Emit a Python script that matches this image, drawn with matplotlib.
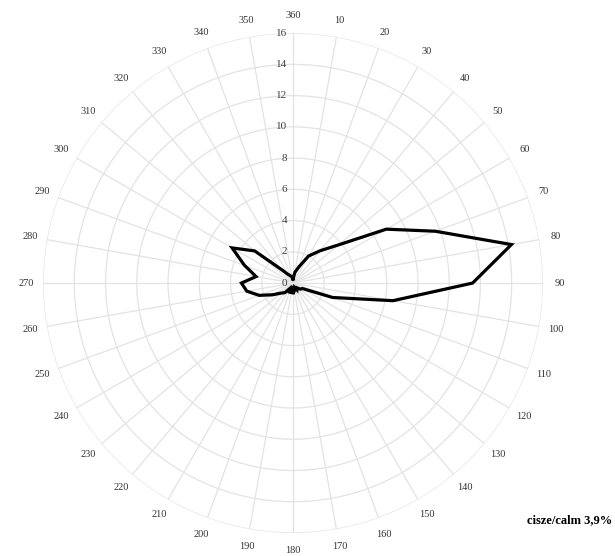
import numpy as np
import matplotlib
matplotlib.use("Agg")
import matplotlib.pyplot as plt
from matplotlib.transforms import offset_copy

# wind directions (360 at top, clockwise) and frequency in %
directions = [360, 10, 20, 30, 40, 50, 60, 70, 80, 90, 100, 110,
              120, 130, 140, 150, 160, 170, 180, 190, 200, 210, 220, 230,
              240, 250, 260, 270, 280, 290, 300, 310, 320, 330, 340, 350]
freq = [0.25, 0.7, 1.1, 2.0, 2.7, 3.8, 6.9, 9.7, 14.2, 11.5, 6.5, 2.7,
        0.7, 0.6, 0.4, 0.5, 0.3, 0.5, 0.7, 0.4, 0.7, 0.4, 0.8, 1.0,
        1.5, 2.3, 3.0, 3.3, 2.4, 3.3, 4.5, 3.2, 1.1, 0.65, 0.5, 0.4]
rings = [0, 2, 4, 6, 8, 10, 12, 14, 16]
calm_text = "cisze/calm 3,9%"

plt.rcParams['font.family'] = ['Liberation Serif', 'DejaVu Serif']

fig = plt.figure(figsize=(6.15, 5.56), dpi=100)
ax = fig.add_axes([0.0699, 0.0414, 0.813, 0.899], projection='polar')
ax.set_theta_zero_location('N')
ax.set_theta_direction(-1)
ax.set_ylim(0, 16)

grid_col = '#e3e3e3'
theta = np.deg2rad(directions)

# spokes and rings drawn by hand so they look like the excel radar grid
for t in theta:
    ax.plot([t, t], [0, 16], color=grid_col, lw=0.9, zorder=1)
circ = np.linspace(0, 2 * np.pi, 361)
for r in rings[1:]:
    ax.plot(circ, np.full_like(circ, r), color=grid_col, lw=0.9, zorder=1)

ax.grid(False)
ax.spines['polar'].set_visible(False)
ax.set_xticks([])
ax.set_yticks([])

# data line (closed)
tt = np.append(theta, theta[0])
rr = np.append(freq, freq[0])
ax.plot(tt, rr, color='black', lw=2.3, zorder=3, solid_joinstyle='miter')

# direction labels
for d, t in zip(directions, theta):
    ax.text(t, 17.1, str(d), ha='center', va='center', fontsize=7.5,
            color='#333333')

# radial labels along the north spoke
trans = offset_copy(ax.transData, fig=fig, x=-4, y=0, units='points')
for r in rings:
    ax.text(0, r, str(r), ha='right', va='center', fontsize=8,
            color='#404040', transform=trans)

fig.text(0.995, 1 - 520 / 556, calm_text, ha='right', va='center',
         fontsize=9, fontweight='bold', color='black')

fig.savefig('out.png', dpi=100)
